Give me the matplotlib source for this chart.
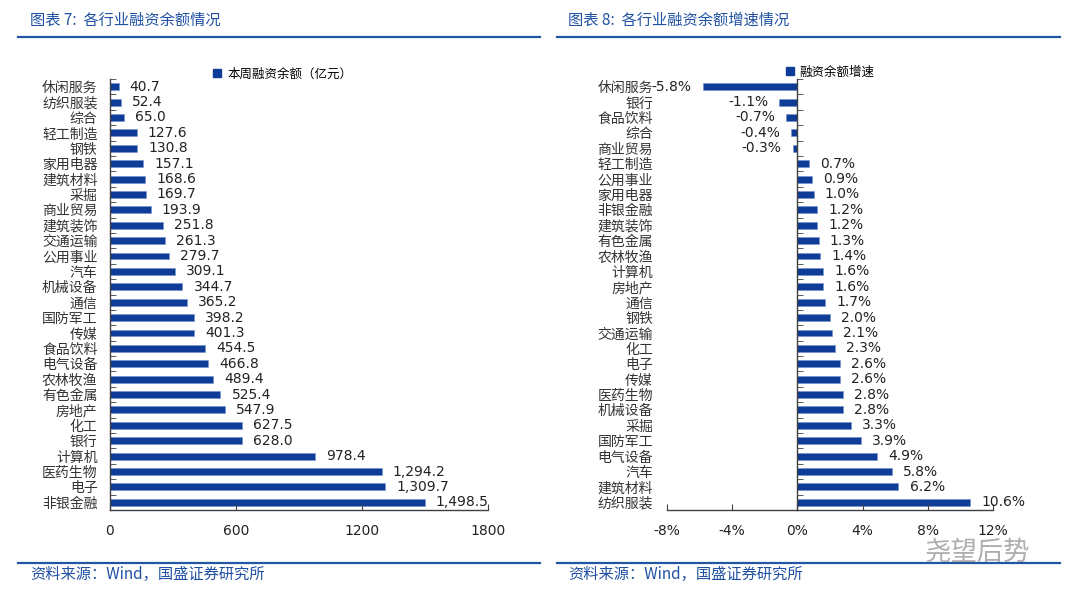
import numpy as np
import matplotlib.pyplot as plt
from matplotlib.patches import Patch

plt.rcParams['font.family'] = ['Noto Sans CJK SC', 'DejaVu Sans']

# 图表7 data
bal_names = ['休闲服务', '纺织服装', '综合', '轻工制造', '钢铁', '家用电器', '建筑材料', '采掘',
             '商业贸易', '建筑装饰', '交通运输', '公用事业', '汽车', '机械设备', '通信', '国防军工',
             '传媒', '食品饮料', '电气设备', '农林牧渔', '有色金属', '房地产', '化工', '银行',
             '计算机', '医药生物', '电子', '非银金融']
bal_values = [40.7, 52.4, 65.0, 127.6, 130.8, 157.1, 168.6, 169.7, 193.9, 251.8, 261.3, 279.7,
              309.1, 344.7, 365.2, 398.2, 401.3, 454.5, 466.8, 489.4, 525.4, 547.9, 627.5, 628.0,
              978.4, 1294.2, 1309.7, 1498.5]
bal_ticks = [0, 600, 1200, 1800]

# 图表8 data
growth_names = ['休闲服务', '银行', '食品饮料', '综合', '商业贸易', '轻工制造', '公用事业', '家用电器',
                '非银金融', '建筑装饰', '有色金属', '农林牧渔', '计算机', '房地产', '通信', '钢铁',
                '交通运输', '化工', '电子', '传媒', '医药生物', '机械设备', '采掘', '国防军工',
                '电气设备', '汽车', '建筑材料', '纺织服装']
growth_values = [-5.8, -1.1, -0.7, -0.4, -0.3, 0.7, 0.9, 1.0, 1.2, 1.2, 1.3, 1.4, 1.6, 1.6, 1.7,
                 2.0, 2.1, 2.3, 2.6, 2.6, 2.8, 2.8, 3.3, 3.9, 4.9, 5.8, 6.2, 10.6]
growth_ticks = [-8, -4, 0, 4, 8, 12]

bar_color = '#0E3C96'
head_blue = '#1F50A2'
axis_color = '#404040'

fig = plt.figure(figsize=(10.8, 6.02), dpi=100)

# ---------- headers / footers ----------
fig.text(30 / 1080, 1 - 20 / 602, '图表 7:  各行业融资余额情况', color=head_blue, fontsize=11,
         va='center', ha='left')
fig.text(568 / 1080, 1 - 20 / 602, '图表 8:  各行业融资余额增速情况', color=head_blue, fontsize=11,
         va='center', ha='left')
for x0, x1 in [(18, 540), (557, 1060)]:
    for yy in [37, 563]:
        fig.add_artist(plt.Line2D([x0 / 1080, x1 / 1080], [1 - yy / 602, 1 - yy / 602],
                                  color='#2156A5', lw=1.6))
fig.text(30 / 1080, 1 - 574 / 602, '资料来源：Wind，国盛证券研究所', color=head_blue, fontsize=11,
         va='center', ha='left')
fig.text(568 / 1080, 1 - 574 / 602, '资料来源：Wind，国盛证券研究所', color=head_blue, fontsize=11,
         va='center', ha='left')
fig.text(1030 / 1080, 1 - 552 / 602, '尧望后势', color='#9a9a9a', fontsize=19, alpha=0.8,
         va='center', ha='right')


def style_axes(ax, n):
    for s in ['top', 'right']:
        ax.spines[s].set_visible(False)
    for s in ['left', 'bottom']:
        ax.spines[s].set_color(axis_color)
        ax.spines[s].set_linewidth(1.0)
    ax.set_ylim(n - 0.5, -0.5)
    ax.set_yticks(np.arange(n + 1) - 0.5, minor=True)
    ax.tick_params(axis='y', which='minor', direction='in', length=4, color=axis_color)
    ax.tick_params(axis='x', which='major', direction='in', length=4, color=axis_color,
                   labelsize=10, pad=10, labelcolor='#222222')


# ---------- left chart ----------
ax1 = fig.add_axes([110 / 1080, 92 / 602, 378 / 1080, 431 / 602])
y1 = np.arange(len(bal_names))
ax1.barh(y1, bal_values, height=0.45, color=bar_color, edgecolor='#6f8fcc', linewidth=0.4)
style_axes(ax1, len(bal_names))
ax1.set_xlim(0, 1800)
ax1.set_xticks(bal_ticks)
ax1.set_xticklabels([str(t) for t in bal_ticks], family='DejaVu Sans')
ax1.set_yticks(y1)
ax1.set_yticklabels(bal_names)
ax1.tick_params(axis='y', which='major', length=0, pad=9, labelsize=10, labelcolor='#333333')
for yy, v in zip(y1, bal_values):
    ax1.annotate(f'{v:,.1f}', (v, yy), xytext=(8, 0), textcoords='offset points',
                 ha='left', va='center', fontsize=10, family='DejaVu Sans', color='#222222')
ax1.legend(handles=[Patch(color=bar_color, label='本周融资余额（亿元）')], loc='lower left',
           bbox_to_anchor=(0.26, 0.985), frameon=False, fontsize=9, handlelength=0.6,
           handleheight=0.6, handletextpad=0.5, borderaxespad=0)

# ---------- right chart ----------
ax2 = fig.add_axes([667 / 1080, 92 / 602, 326 / 1080, 431 / 602])
y2 = np.arange(len(growth_names))
ax2.barh(y2, growth_values, height=0.45, color=bar_color, edgecolor='#6f8fcc', linewidth=0.4)
style_axes(ax2, len(growth_names))
ax2.spines['left'].set_position(('data', 0))
ax2.set_xlim(-8, 12)
ax2.set_xticks(growth_ticks)
ax2.set_xticklabels([f'{t}%' for t in growth_ticks], family='DejaVu Sans')
ax2.set_yticks(y2)
ax2.set_yticklabels(growth_names)
ax2.tick_params(axis='y', which='major', length=0, pad=104, labelsize=10, labelcolor='#333333')
for yy, v in zip(y2, growth_values):
    off = 8 if v >= 0 else -8
    ax2.annotate(f'{v:.1f}%', (v, yy), xytext=(off, 0), textcoords='offset points',
                 ha='left' if v >= 0 else 'right', va='center', fontsize=10,
                 family='DejaVu Sans', color='#222222')
ax2.legend(handles=[Patch(color=bar_color, label='融资余额增速')], loc='lower left',
           bbox_to_anchor=(0.35, 0.99), frameon=False, fontsize=9, handlelength=0.6,
           handleheight=0.6, handletextpad=0.5, borderaxespad=0)

fig.savefig('out.png', dpi=100, facecolor='white')
